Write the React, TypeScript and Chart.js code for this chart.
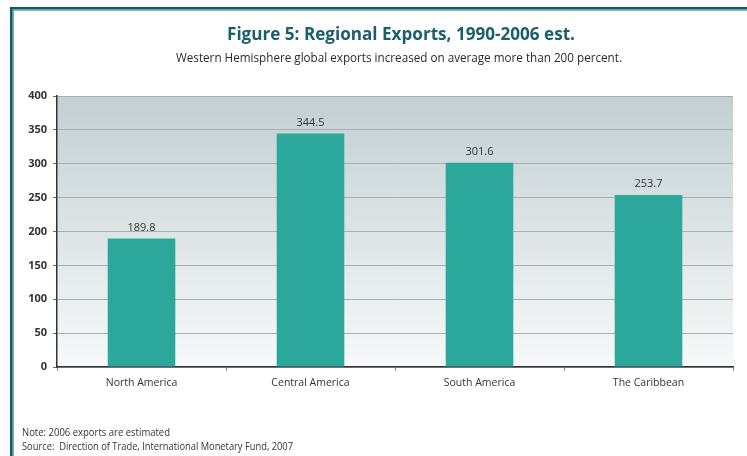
import React, { useEffect, useRef } from "react";
import { Chart, registerables } from "chart.js";

Chart.register(...registerables);

const categories = ["North America", "Central America", "South America", "The Caribbean"];
const exportsGrowth = [189.8, 344.5, 301.6, 253.7];
const yTicks = [0, 50, 100, 150, 200, 250, 300, 350, 400];
const titleText = "Figure 5: Regional Exports, 1990-2006 est.";
const subtitleText = "Western Hemisphere global exports increased on average more than 200 percent.";
const noteText = "Note: 2006 exports are estimated";
const sourceText = "Source:  Direction of Trade, International Monetary Fund, 2007";

const FONT = "'Open Sans', 'DejaVu Sans', sans-serif";

const decorPlugin = {
  id: "decor",
  beforeDraw(chart: any) {
    const { ctx, chartArea } = chart;
    const { left, right, top, bottom } = chartArea;
    ctx.save();
    ctx.fillStyle = "#ffffff";
    ctx.fillRect(0, 0, chart.width, chart.height);
    // frame
    ctx.fillStyle = "#0f5a69";
    ctx.fillRect(10, 7, chart.width - 10, 2.6);
    ctx.fillRect(10, 7, 2.7, chart.height - 7);
    ctx.fillStyle = "#6ea2ab";
    ctx.fillRect(12.7, 9.6, chart.width - 12.7, 1.2);
    ctx.fillRect(12.7, 9.6, 1.2, chart.height - 9.6);
    // plot gradient
    const g = ctx.createLinearGradient(0, top, 0, bottom);
    g.addColorStop(0, "#c3cfd2");
    g.addColorStop(1, "#f7f9fa");
    ctx.fillStyle = g;
    ctx.fillRect(left, top, right - left, bottom - top);
    // titles
    ctx.textAlign = "center";
    ctx.textBaseline = "alphabetic";
    ctx.fillStyle = "#1b5f6d";
    ctx.font = `bold 18px ${FONT}`;
    ctx.fillText(titleText, 401, 40, 348);
    ctx.fillStyle = "#2b2b2b";
    ctx.font = `12px ${FONT}`;
    ctx.fillText(subtitleText, 399, 62, 446);
    // footnotes
    ctx.textAlign = "left";
    ctx.fillStyle = "#333333";
    ctx.font = `10.5px ${FONT}`;
    ctx.fillText(noteText, 22, 436, 148);
    ctx.fillText(sourceText, 22, 450, 271);
    ctx.restore();
  },
  afterDatasetsDraw(chart: any) {
    const { ctx } = chart;
    const meta = chart.getDatasetMeta(0);
    ctx.save();
    ctx.fillStyle = "#333333";
    ctx.font = `11px ${FONT}`;
    ctx.textAlign = "center";
    ctx.textBaseline = "middle";
    meta.data.forEach((bar: any, i: number) => {
      ctx.fillText(exportsGrowth[i].toFixed(1), bar.x, bar.y - 11);
    });
    ctx.restore();
  },
};

export default function App() {
  const ref = useRef<HTMLCanvasElement>(null);
  useEffect(() => {
    if (!ref.current) return;
    const chart = new Chart(ref.current, {
      type: "bar",
      data: {
        labels: categories,
        datasets: [
          {
            data: exportsGrowth,
            backgroundColor: "#2ba89b",
            borderWidth: 0,
            barPercentage: 0.4,
            categoryPercentage: 1,
          },
        ],
      },
      options: {
        animation: false,
        responsive: true,
        maintainAspectRatio: false,
        layout: { padding: { top: 96, right: 14, bottom: 49, left: 0 } },
        plugins: {
          legend: { display: false },
          tooltip: { enabled: false },
          title: { display: false },
        },
        scales: {
          x: {
            afterFit(scale: any) {
              scale.height = 40;
            },
            grid: {
              offset: true,
              drawOnChartArea: false,
              drawTicks: true,
              tickLength: 4,
              color: "#888888",
            },
            border: { color: "#333333", width: 1.5 },
            ticks: {
              color: "#333333",
              padding: 6,
              font: { family: FONT, size: 10.5 },
            },
          },
          y: {
            min: 0,
            max: 400,
            afterFit(scale: any) {
              scale.width = 57;
            },
            afterBuildTicks(scale: any) {
              scale.ticks = yTicks.map((v) => ({ value: v }));
            },
            grid: {
              color: "#a6afb2",
              lineWidth: 1,
              drawTicks: true,
              tickLength: 4,
              tickColor: "#666666",
            },
            border: { color: "#333333", width: 1.5 },
            ticks: {
              color: "#333333",
              padding: 6,
              font: { family: FONT, size: 11, weight: "bold" },
            },
          },
        },
      },
      plugins: [decorPlugin],
    });
    return () => chart.destroy();
  }, []);
  return (
    <div style={{ position: "absolute", left: 0, top: 0, width: 747, height: 456 }}>
      <canvas ref={ref} />
    </div>
  );
}
